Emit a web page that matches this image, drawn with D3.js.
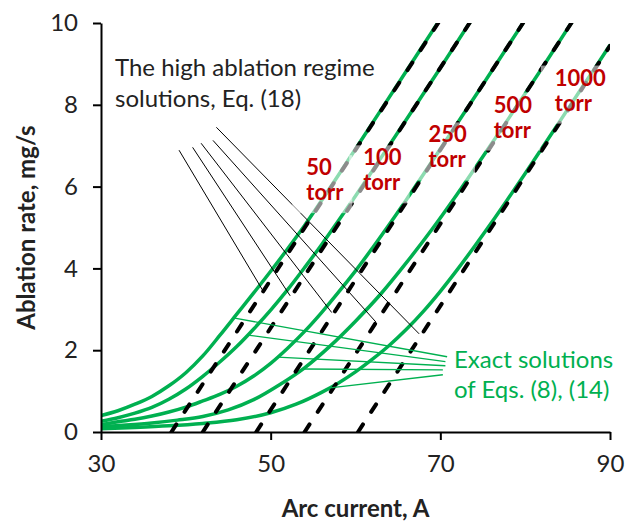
<!DOCTYPE html>
<html>
<head>
<meta charset="utf-8">
<script src="https://cdn.jsdelivr.net/npm/d3@7"></script>
<style>
  body { margin: 0; background: #fff; }
  text { font-family: Lato, "Open Sans", sans-serif; }
</style>
</head>
<body>
<div id="chart"></div>
<script>
const width = 633;
const height = 524;
const margin = { top: 23, right: 23, bottom: 92, left: 101 };

const xTicks = [30, 50, 70, 90];
const yTicks = [0, 2, 4, 6, 8, 10];
const pressures = ["50", "100", "250", "500", "1000"];

// exact solutions of Eqs. (8), (14): [current A, ablation rate mg/s]
const exact50 = [[30, 0.40], [32, 0.52], [34, 0.68], [36, 0.87], [38, 1.13], [40, 1.45], [42, 1.86], [44, 2.36], [46, 2.88], [48, 3.40], [50, 3.93], [52, 4.48], [54, 5.05], [56, 5.66], [60, 6.92], [65, 8.51], [70, 10.10]];
const exact100 = [[30, 0.26], [32, 0.35], [34, 0.46], [36, 0.60], [38, 0.80], [40, 1.05], [42, 1.36], [44, 1.71], [46, 2.09], [48, 2.52], [50, 2.98], [52, 3.48], [54, 4.02], [56, 4.58], [58, 5.17], [60, 5.77], [62, 6.39], [66, 7.64], [70, 8.90], [74, 10.18]];
const exact250 = [[30, 0.18], [32, 0.25], [34, 0.31], [36, 0.39], [38, 0.49], [40, 0.61], [42, 0.76], [44, 0.92], [46, 1.12], [48, 1.37], [50, 1.68], [52, 2.05], [54, 2.46], [56, 2.92], [58, 3.42], [60, 3.94], [62, 4.50], [64, 5.08], [66, 5.68], [70, 6.92], [75, 8.49], [80, 10.08]];
const exact500 = [[30, 0.13], [33, 0.17], [36, 0.22], [39, 0.29], [42, 0.38], [45, 0.54], [48, 0.79], [51, 1.15], [54, 1.57], [57, 2.10], [60, 2.71], [63, 3.38], [66, 4.14], [69, 4.95], [72, 5.82], [75, 6.73], [78, 7.65], [82, 8.90], [86, 10.18]];
const exact1000 = [[30, 0.08], [34, 0.11], [38, 0.15], [42, 0.21], [46, 0.30], [50, 0.47], [53, 0.68], [56, 0.97], [58, 1.20], [60, 1.47], [62, 1.78], [64, 2.12], [66, 2.51], [68, 2.95], [70, 3.44], [72, 3.97], [74, 4.53], [76, 5.11], [78, 5.71], [80, 6.32], [84, 7.57], [88, 8.83], [90, 9.46]];
const exactSeries = [exact50, exact100, exact250, exact500, exact1000];

// high ablation regime, Eq. (18): straight lines, start and end points
const highStart = [[38.3, 0], [42.0, 0], [48.3, 0], [54.0, 0], [60.3, 0]];
const highEnd = [[69.75, 10], [73.45, 10], [79.75, 10], [85.45, 10], [90, 9.44]];

// leader lines of the two annotations
const blackFrom = [[39.2, 6.89], [40.8, 6.96], [41.8, 7.06], [43.2, 7.13], [43.6, 7.45]];
const blackTo = [[49.1, 3.45], [52.3, 3.33], [57.2, 2.92], [62.4, 2.69], [67.5, 2.40]];
const greenFrom = [[45.6, 2.79], [47.3, 2.37], [50.8, 1.83], [53.8, 1.54], [57.0, 1.08]];
const greenTo = [[70.8, 1.84], [70.6, 1.72], [70.6, 1.62], [70.3, 1.52], [70.3, 1.40]];

// where the pressure labels sit (data units, first baseline)
const labelAt = [[54.2, 6.28], [60.9, 6.52], [68.6, 7.08], [76.3, 7.81], [83.5, 8.47]];

const green = "#00b050";
const red = "#c00000";

const svg = d3.select("#chart").append("svg")
  .attr("width", width)
  .attr("height", height)
  .attr("viewBox", [0, 0, width, height]);

const x = d3.scaleLinear().domain([30, 90]).range([margin.left, width - margin.right]);
const y = d3.scaleLinear().domain([0, 10]).range([height - margin.bottom, margin.top]);

svg.append("clipPath").attr("id", "plot-clip")
  .append("rect")
  .attr("x", margin.left).attr("y", margin.top)
  .attr("width", width - margin.left - margin.right)
  .attr("height", height - margin.top - margin.bottom);

const plot = svg.append("g").attr("clip-path", "url(#plot-clip)");

const line = d3.line().x(d => x(d[0])).y(d => y(d[1])).curve(d3.curveMonotoneX);

// green exact curves
plot.selectAll(".exact")
  .data(exactSeries)
  .enter().append("path")
  .attr("class", "exact")
  .attr("d", line)
  .attr("fill", "none")
  .attr("stroke", green)
  .attr("stroke-width", 3.5);

// black dashed high-regime lines
plot.selectAll(".high")
  .data(highStart.map((d, i) => [d, highEnd[i]]))
  .enter().append("path")
  .attr("class", "high")
  .attr("d", d3.line().x(d => x(d[0])).y(d => y(d[1])))
  .attr("fill", "none")
  .attr("stroke", "#000")
  .attr("stroke-width", 4)
  .attr("stroke-linecap", "round")
  .attr("stroke-dasharray", "9,15");

// leader lines
svg.selectAll(".lead-black")
  .data(blackFrom.map((d, i) => [d, blackTo[i]]))
  .enter().append("line")
  .attr("x1", d => x(d[0][0])).attr("y1", d => y(d[0][1]))
  .attr("x2", d => x(d[1][0])).attr("y2", d => y(d[1][1]))
  .attr("stroke", "#000").attr("stroke-width", 1);

svg.selectAll(".lead-green")
  .data(greenFrom.map((d, i) => [d, greenTo[i]]))
  .enter().append("line")
  .attr("x1", d => x(d[0][0])).attr("y1", d => y(d[0][1]))
  .attr("x2", d => x(d[1][0])).attr("y2", d => y(d[1][1]))
  .attr("stroke", green).attr("stroke-width", 1.3);

// axes
const xAxis = svg.append("g")
  .attr("transform", `translate(0,${height - margin.bottom})`)
  .call(d3.axisBottom(x).tickValues(xTicks).tickSize(8).tickSizeOuter(0).tickPadding(15));
const yAxis = svg.append("g")
  .attr("transform", `translate(${margin.left},0)`)
  .call(d3.axisLeft(y).tickValues(yTicks).tickSize(8).tickSizeOuter(0).tickPadding(15));

[xAxis, yAxis].forEach(g => {
  g.select(".domain").attr("stroke", "#000").attr("stroke-width", 2);
  g.selectAll(".tick line").attr("stroke", "#000").attr("stroke-width", 2);
  g.selectAll(".tick text").attr("fill", "#222").style("font-size", "24px").style("font-family", "Lato, sans-serif");
});

svg.append("text")
  .attr("x", (margin.left + width - margin.right) / 2)
  .attr("y", 517)
  .attr("text-anchor", "middle")
  .style("font-size", "24px").style("font-weight", "bold").attr("fill", "#222")
  .text("Arc current, A");

svg.append("text")
  .attr("transform", `translate(35,${(margin.top + height - margin.bottom) / 2}) rotate(-90)`)
  .attr("text-anchor", "middle")
  .style("font-size", "24px").style("font-weight", "bold").attr("fill", "#222")
  .text("Ablation rate, mg/s");

// annotations
const note = svg.append("text").attr("fill", "#222").style("font-size", "24px");
note.append("tspan").attr("x", 115).attr("y", 76).text("The high ablation regime");
note.append("tspan").attr("x", 115).attr("y", 107).text("solutions, Eq. (18)");

const exactNote = svg.append("text").attr("fill", green).style("font-size", "24px");
exactNote.append("tspan").attr("x", 454).attr("y", 368).text("Exact solutions");
exactNote.append("tspan").attr("x", 454).attr("y", 398).text("of Eqs. (8), (14)");

// pressure labels on half-transparent white boxes
pressures.forEach((p, i) => {
  const g = svg.append("g");
  const box = g.append("rect").attr("fill", "#fff").attr("fill-opacity", 0.55);
  const lx = x(labelAt[i][0]);
  const ly = y(labelAt[i][1]);
  const top = g.append("text").attr("x", lx).attr("y", ly)
    .attr("fill", red).style("font-size", "22px").style("font-weight", "bold").text(p);
  const bottom = g.append("text").attr("x", lx).attr("y", ly + 25)
    .attr("fill", red).style("font-size", "22px").style("font-weight", "bold").text("torr");
  const w = Math.max(top.node().getBBox().width, bottom.node().getBBox().width);
  box.attr("x", lx - 14).attr("y", ly - 20).attr("width", w + 22).attr("height", 58);
});
</script>
</body>
</html>
